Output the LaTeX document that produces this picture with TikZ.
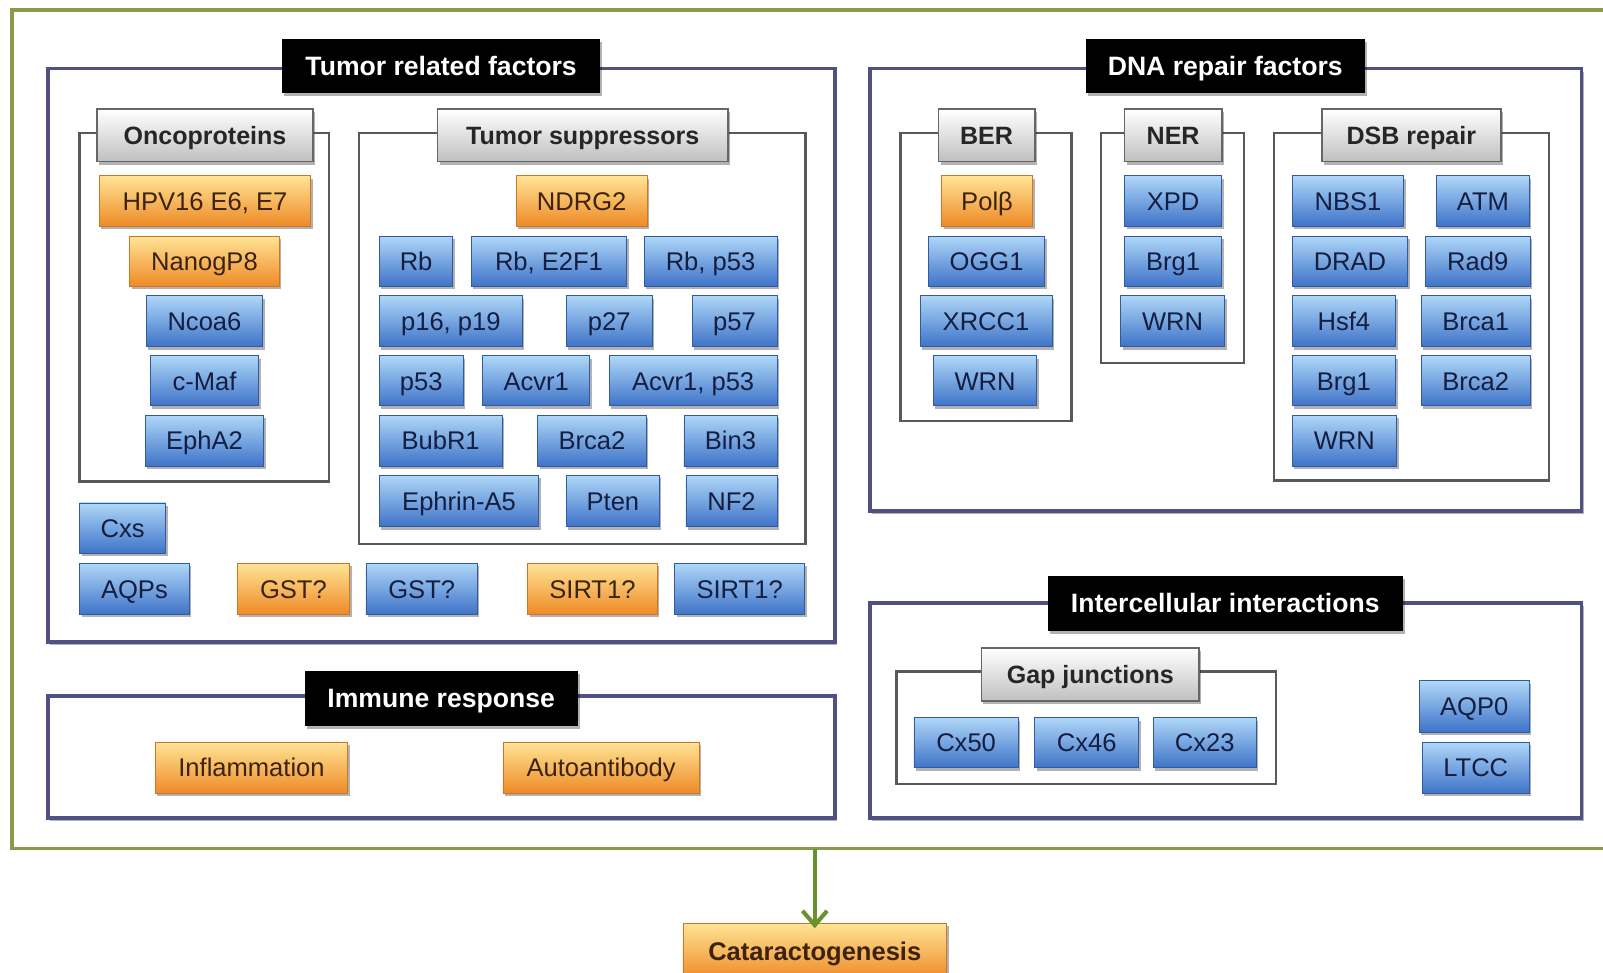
\documentclass[tikz,border=0pt]{standalone}
\usepackage{fontspec}
\setmainfont{Liberation Sans}
\usetikzlibrary{shadows,arrows.meta}
\definecolor{frameC}{RGB}{80,80,130}
\definecolor{greenC}{RGB}{135,155,75}
\definecolor{arrowC}{RGB}{105,145,45}
\definecolor{blueT}{RGB}{175,215,248}
\definecolor{blueM}{RGB}{95,155,228}
\definecolor{blueB}{RGB}{62,115,200}
\definecolor{blueD}{RGB}{50,90,160}
\definecolor{blueTxt}{RGB}{20,30,65}
\definecolor{orT}{RGB}{255,228,150}
\definecolor{orM}{RGB}{250,172,72}
\definecolor{orB}{RGB}{238,138,38}
\definecolor{orD}{RGB}{200,120,40}
\definecolor{orTxt}{RGB}{60,35,15}
\newcommand\mkbox[7]{\node[#1, minimum width={(#5)-(#3)}, minimum height={(#6)-(#4)}] (#2) at ({((#3)+(#5))/2},{((#4)+(#6))/2}) {#7};}
\tikzset{
  base/.style={inner sep=0pt, outer sep=0pt, text height=18pt, text depth=0pt, font=\fontsize{25}{30}\selectfont},
  shd/.style={drop shadow={shadow xshift=2pt, shadow yshift=-3pt, opacity=0.3, fill=black}},
  outerF/.style={base, draw=greenC, line width=3.5pt},
  frm/.style={base, draw=frameC, line width=3.5pt, fill=white, shd},
  subfrm/.style={base, draw=black!65, line width=2.5pt},
  ttl/.style={base, fill=black, text=white, font=\fontsize{26}{30}\selectfont\bfseries, shd},
  glab/.style={base, draw=black!60, line width=1.8pt, top color=white, bottom color=black!25, font=\fontsize{24.5}{30}\selectfont\bfseries, text=black!85, shd},
  blu/.style={base, draw=blueD, line width=0.8pt, top color=blueT, middle color=blueM, bottom color=blueB, text=blueTxt, shd},
  org/.style={base, draw=orD, line width=0.8pt, top color=orT, middle color=orM, bottom color=orB, text=orTxt, shd},
}
\begin{document}
\begin{tikzpicture}[x=1pt,y=-1pt]
\useasboundingbox (0,0) rectangle (1568,951);
\fill[white] (0,0) rectangle (1568,951);
% outer frame
\mkbox{outerF}{outer}{12}{10}{1610}{830}{}
% main frames
\mkbox{frm}{tumorF}{47}{67}{817}{628}{}
\mkbox{frm}{dnaF}{851}{67}{1547}{500}{}
\mkbox{frm}{immF}{47}{681}{817}{800}{}
\mkbox{frm}{interF}{851}{590}{1547}{800}{}
% titles
\mkbox{ttl}{tumorT}{276}{38}{587}{91}{Tumor related factors}
\mkbox{ttl}{dnaT}{1062}{38}{1335}{91}{DNA repair factors}
\mkbox{ttl}{immT}{298}{656}{565}{710}{Immune response}
\mkbox{ttl}{interT}{1025}{563}{1372}{617}{Intercellular interactions}
% sub frames
\mkbox{subfrm}{oncoF}{78}{130}{322}{471}{}
\mkbox{subfrm}{supF}{351}{130}{788}{532}{}
\mkbox{subfrm}{berF}{881}{130}{1048}{412}{}
\mkbox{subfrm}{nerF}{1077}{130}{1217}{355}{}
\mkbox{subfrm}{dsbF}{1246}{130}{1515}{470}{}
\mkbox{subfrm}{gapF}{877}{657}{1248}{767}{}
% gray labels
\mkbox{glab}{oncoL}{95}{107}{306}{158}{Oncoproteins}
\mkbox{glab}{supL}{428}{107}{712}{158}{Tumor suppressors}
\mkbox{glab}{berL}{918}{107}{1012}{158}{BER}
\mkbox{glab}{nerL}{1100}{107}{1195}{158}{NER}
\mkbox{glab}{dsbL}{1293}{107}{1468}{158}{DSB repair}
\mkbox{glab}{gapL}{960}{634}{1173}{686}{Gap junctions}
% oncoproteins
\mkbox{org}{hpv}{97}{172}{304}{221}{HPV16 E6, E7}
\mkbox{org}{nanog}{127}{231}{273}{280}{NanogP8}
\mkbox{blu}{ncoa}{143}{289}{257}{339}{Ncoa6}
\mkbox{blu}{cmaf}{147}{348}{253}{397}{c-Maf}
\mkbox{blu}{epha}{142}{406}{258}{456}{EphA2}
% tumor suppressors
\mkbox{org}{ndrg}{505}{172}{633}{221}{NDRG2}
\mkbox{blu}{rb}{371}{231}{443}{280}{Rb}
\mkbox{blu}{rbe}{461}{231}{613}{280}{Rb, E2F1}
\mkbox{blu}{rbp}{630}{231}{760}{280}{Rb, p53}
\mkbox{blu}{p16}{371}{289}{511}{339}{p16, p19}
\mkbox{blu}{p27}{554}{289}{638}{339}{p27}
\mkbox{blu}{p57}{677}{289}{760}{339}{p57}
\mkbox{blu}{p53}{371}{348}{453}{397}{p53}
\mkbox{blu}{acvr}{472}{348}{577}{397}{Acvr1}
\mkbox{blu}{acvrp}{596}{348}{760}{397}{Acvr1, p53}
\mkbox{blu}{bubr}{371}{406}{491}{456}{BubR1}
\mkbox{blu}{brcaT}{526}{406}{632}{456}{Brca2}
\mkbox{blu}{bin}{669}{406}{760}{456}{Bin3}
\mkbox{blu}{eph}{371}{465}{527}{515}{Ephrin-A5}
\mkbox{blu}{pten}{554}{465}{645}{515}{Pten}
\mkbox{blu}{nf}{671}{465}{760}{515}{NF2}
% bottom row of tumor box
\mkbox{blu}{cxs}{78}{492}{162}{541}{Cxs}
\mkbox{blu}{aqps}{78}{551}{185}{601}{AQPs}
\mkbox{org}{gsto}{232}{551}{342}{601}{GST?}
\mkbox{blu}{gstb}{358}{551}{467}{601}{GST?}
\mkbox{org}{sirto}{516}{551}{643}{601}{SIRT1?}
\mkbox{blu}{sirtb}{660}{551}{787}{601}{SIRT1?}
% immune
\mkbox{org}{infl}{152}{726}{340}{776}{Inflammation}
\mkbox{org}{auto}{492}{726}{684}{776}{Autoantibody}
% BER
\mkbox{org}{pol}{921}{172}{1010}{221}{Polβ}
\mkbox{blu}{ogg}{908}{231}{1022}{280}{OGG1}
\mkbox{blu}{xrcc}{900}{289}{1029}{339}{XRCC1}
\mkbox{blu}{wrnA}{913}{348}{1014}{397}{WRN}
% NER
\mkbox{blu}{xpd}{1100}{172}{1195}{221}{XPD}
\mkbox{blu}{brgA}{1100}{231}{1195}{280}{Brg1}
\mkbox{blu}{wrnB}{1096}{289}{1198}{339}{WRN}
% DSB
\mkbox{blu}{nbs}{1264}{172}{1373}{221}{NBS1}
\mkbox{blu}{atm}{1405}{172}{1496}{221}{ATM}
\mkbox{blu}{drad}{1264}{231}{1377}{280}{DRAD}
\mkbox{blu}{rad}{1394}{231}{1497}{280}{Rad9}
\mkbox{blu}{hsf}{1264}{289}{1365}{339}{Hsf4}
\mkbox{blu}{brcaA}{1390}{289}{1497}{339}{Brca1}
\mkbox{blu}{brgB}{1264}{348}{1365}{397}{Brg1}
\mkbox{blu}{brcaB}{1390}{348}{1497}{397}{Brca2}
\mkbox{blu}{wrnC}{1264}{406}{1366}{456}{WRN}
% intercellular
\mkbox{blu}{cx50}{894}{702}{996}{751}{Cx50}
\mkbox{blu}{cx46}{1012}{702}{1114}{751}{Cx46}
\mkbox{blu}{cx23}{1128}{702}{1229}{751}{Cx23}
\mkbox{blu}{aqp}{1388}{666}{1496}{716}{AQP0}
\mkbox{blu}{ltcc}{1391}{726}{1496}{776}{LTCC}
% result
\mkbox{org}{cat}{668}{903}{926}{958}{\bfseries Cataractogenesis}
\draw[arrowC, line width=4pt, -{Straight Barb[length=14pt,width=24pt]}] (cat.north |- outer.south) -- ([yshift=-5pt]cat.north);
\end{tikzpicture}
\end{document}
